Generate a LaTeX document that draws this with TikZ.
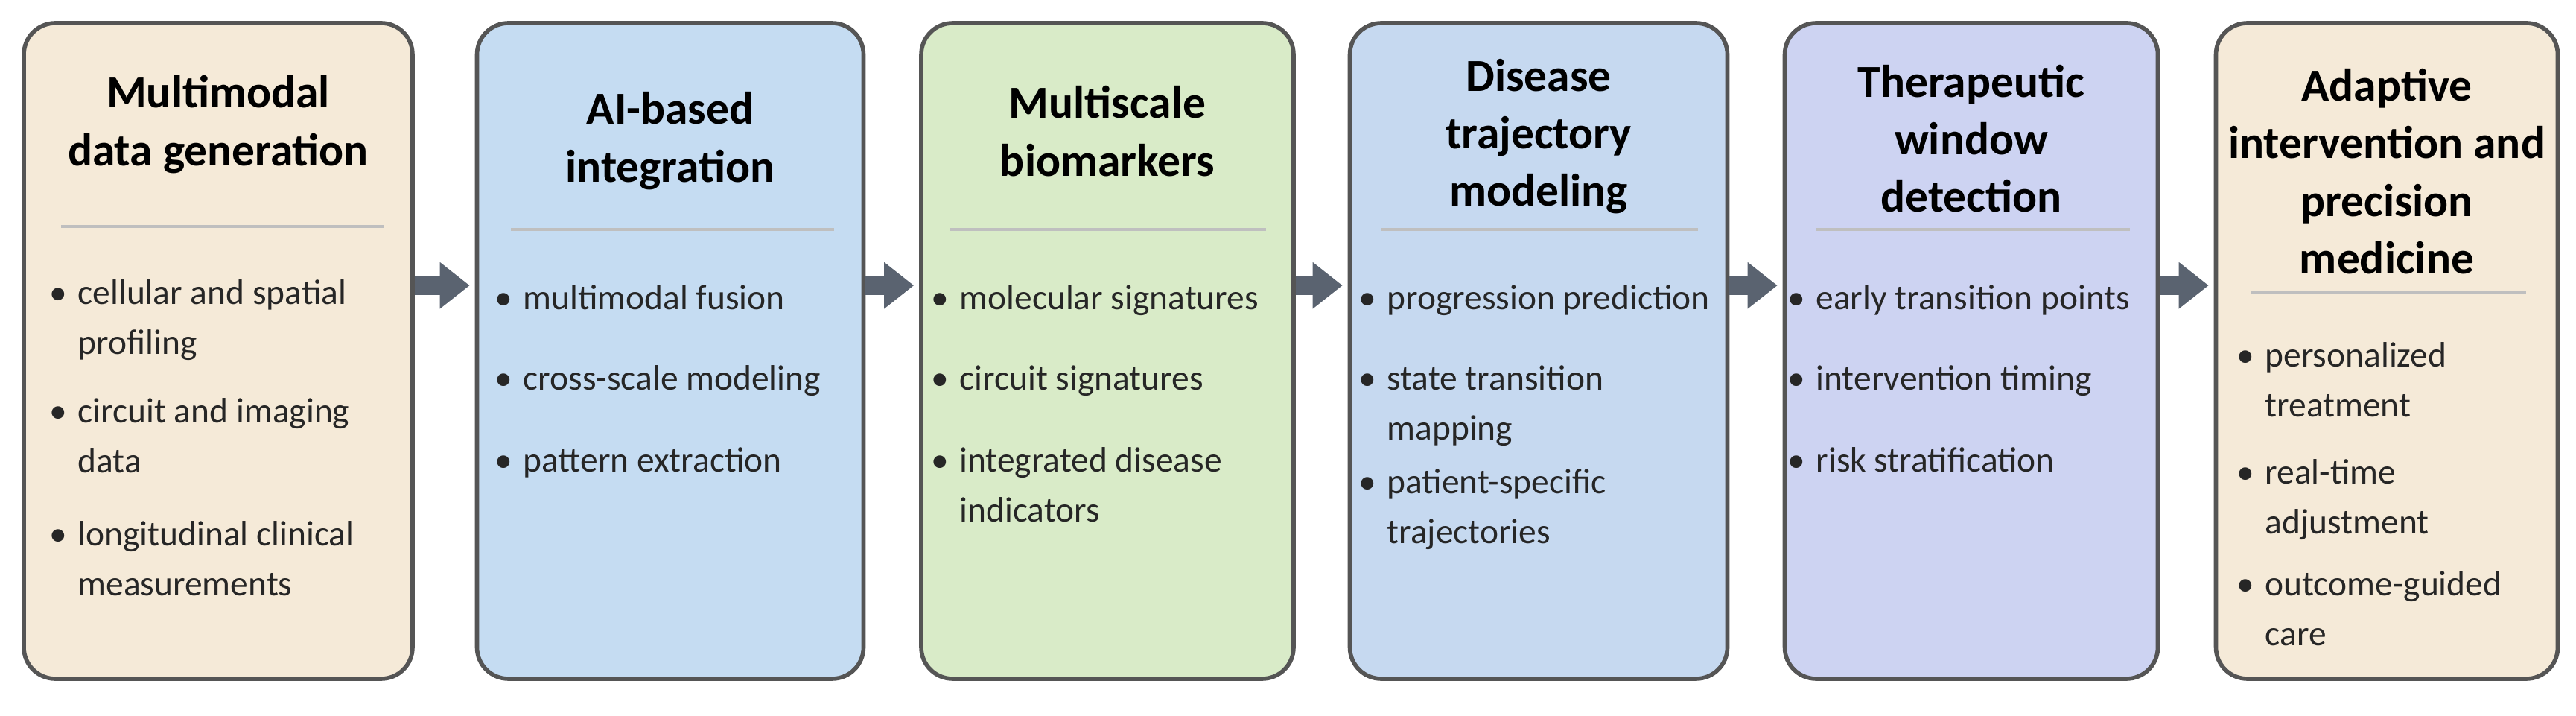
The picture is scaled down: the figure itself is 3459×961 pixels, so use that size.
\documentclass[tikz,border=0pt]{standalone}
\usepackage{fontspec}
\setmainfont{Carlito}
\usetikzlibrary{arrows.meta}
\definecolor{cbeige}{HTML}{F5EAD8}
\definecolor{cblue}{HTML}{C5DCF2}
\definecolor{cgreen}{HTML}{D9EBC8}
\definecolor{cblue2}{HTML}{C6D9F0}
\definecolor{clav}{HTML}{CDD3F2}
\definecolor{cedge}{HTML}{555555}
\definecolor{carrow}{HTML}{5A6370}
\newcommand{\bli}[2]{\begin{tabular}{@{}l@{\hspace{0.3em}}l@{}}\textbullet & #1\\ & #2\end{tabular}}
\newcommand{\bl}[1]{\begin{tabular}{@{}l@{\hspace{0.3em}}l@{}}\textbullet & #1\end{tabular}}
\tikzset{
  box/.style={draw=cedge, line width=1.6pt, rounded corners=12pt, minimum height=880*0.01cm, inner sep=0},
  ttl/.style={font=\fontsize{17.5}{22}\selectfont\bfseries, align=center, inner sep=0},
  itm/.style={font=\fontsize{13.5}{18.8}\selectfont, anchor=north west, inner sep=0, text=black!85},
  dv/.style={draw=black!25, line width=1.2pt},
  arr/.style={draw=carrow, line width=26*0.01cm, -{Triangle[length=40*0.01cm, width=60*0.01cm]}, shorten >=2pt}
}
\begin{document}
\begin{tikzpicture}[x=0.01cm,y=-0.01cm]
\useasboundingbox (0,0) rectangle (3459,961);
% boxes
\node[box, fill=cbeige, minimum width=522*0.01cm] (b1) at (293,471) {};
\node[box, fill=cblue, minimum width=519*0.01cm] (b2) at (900,471) {};
\node[box, fill=cgreen, minimum width=500*0.01cm] (b3) at (1487,471) {};
\node[box, fill=cblue2, minimum width=507*0.01cm] (b4) at (2066,471) {};
\node[box, fill=clav, minimum width=501*0.01cm] (b5) at (2647,471) {};
\node[box, fill=cbeige, minimum width=459*0.01cm] (b6) at (3205,471) {};
% titles
\node[ttl] (t1) at (293,167) {Multimodal\\data generation};
\node[ttl] (t2) at (900,189) {AI-based\\integration};
\node[ttl] (t3) at (1487,176) {Multiscale\\biomarkers};
\node[ttl] (t4) at (2066,183) {Disease\\trajectory\\modeling};
\node[ttl] (t5) at (2647,186) {Therapeutic\\window\\detection};
\node[ttl] (t6) at (3205,230) {Adaptive\\intervention and\\precision\\medicine};
% dividers
\draw[dv] (82,304) -- (515,304);
\draw[dv] (686,308) -- (1120,308);
\draw[dv] (1275,308) -- (1700,308);
\draw[dv] (1855,308) -- (2280,308);
\draw[dv] (2438,308) -- (2860,308);
\draw[dv] (3022,393) -- (3392,393);
% bullets
\node[itm] (i11) at (66,362) {\bli{cellular and spatial}{profiling}};
\node[itm] (i12) at (66,521) {\bli{circuit and imaging}{data}};
\node[itm] (i13) at (66,686) {\bli{longitudinal clinical}{measurements}};
\node[itm] (i21) at (664,369) {\bl{multimodal fusion}};
\node[itm] (i22) at (664,477) {\bl{cross-scale modeling}};
\node[itm] (i23) at (664,587) {\bl{pattern extraction}};
\node[itm] (i31) at (1250,369) {\bl{molecular signatures}};
\node[itm] (i32) at (1250,477) {\bl{circuit signatures}};
\node[itm] (i33) at (1250,587) {\bli{integrated disease}{indicators}};
\node[itm] (i41) at (1824,369) {\bl{progression prediction}};
\node[itm] (i42) at (1824,477) {\bli{state transition}{mapping}};
\node[itm] (i43) at (1824,616) {\bli{patient-specific}{trajectories}};
\node[itm] (i51) at (2400,369) {\bl{early transition points}};
\node[itm] (i52) at (2400,477) {\bl{intervention timing}};
\node[itm] (i53) at (2400,587) {\bl{risk stratification}};
\node[itm] (i61) at (3003,446) {\bli{personalized}{treatment}};
\node[itm] (i62) at (3003,603) {\bli{real-time}{adjustment}};
\node[itm] (i63) at (3003,753) {\bli{outcome-guided}{care}};
% arrows
\foreach \a/\b in {b1/b2,b2/b3,b3/b4,b4/b5,b5/b6}
  \draw[arr] ([yshift=-355*0.01cm]\a.north east) -- ([yshift=-355*0.01cm]\b.north west);
\end{tikzpicture}
\end{document}
